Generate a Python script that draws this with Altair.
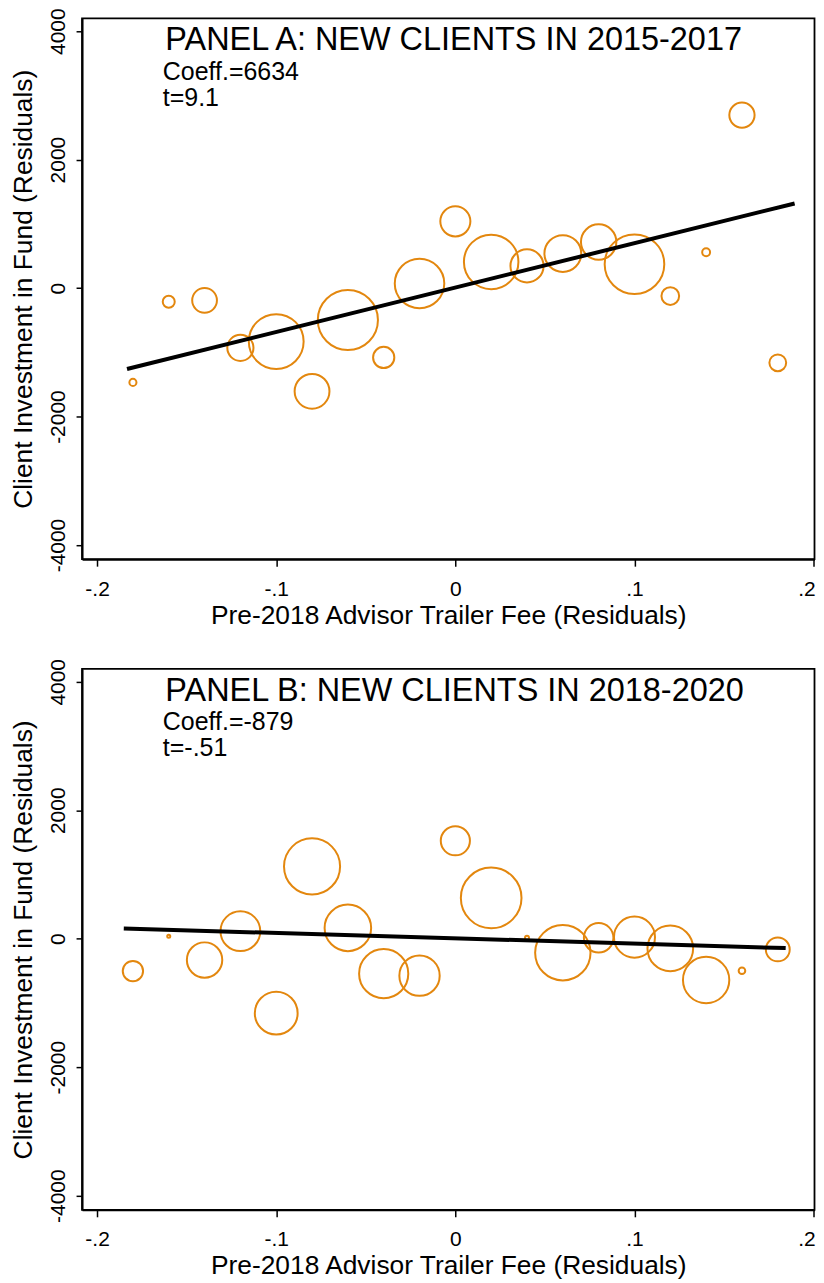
import altair as alt
import pandas as pd

# ---- data ----
fee = [-0.18, -0.16, -0.14, -0.12, -0.10, -0.08, -0.06, -0.04, -0.02, 0.00,
       0.02, 0.04, 0.06, 0.08, 0.10, 0.12, 0.14, 0.16, 0.18]

inv_a = [-1468, -212, -191, -930, -832, -1607, -496, -1080, 72, 1039,
         408, 346, 538, 718, 372, -124, 558, 2693, -1163]
wt_a = [16, 46, 196, 219, 961, 388, 1156, 144, 784, 289,
        949, 350, 433, 400, 1136, 100, 20, 204, 90]

inv_b = [-503, 40, -332, 118, -1159, 1126, 169, -544, -575, 1525,
         635, 14, -218, 14, 25, -151, -642, -498, -166]
wt_b = [132, 3, 400, 506, 586, 1005, 692, 773, 520, 272,
        1176, 5, 980, 279, 538, 666, 686, 14, 182]

fit_x_a = [-0.1833, 0.1894]
fit_y_a = [-1260, 1318]
fit_x_b = [-0.1851, 0.1844]
fit_y_b = [160, -146]

panel_titles = ["PANEL A: NEW CLIENTS IN 2015-2017", "PANEL B: NEW CLIENTS IN 2018-2020"]
coeff_texts = ["Coeff.=6634", "Coeff.=-879"]
t_texts = ["t=9.1", "t=-.51"]

x_ticks = [-0.2, -0.1, 0.0, 0.1, 0.2]
y_ticks = [-4000, -2000, 0, 2000, 4000]

X_TITLE = "Pre-2018 Advisor Trailer Fee (Residuals)"
Y_TITLE = "Client Investment in Fund (Residuals)"

# ---- styling ----
X_DOMAIN = [-0.2084, 0.2005]
Y_DOMAIN = [-4220, 4200]
ORANGE = "#E3870E"
FONT = "Liberation Sans"
W, H = 734, 542

X_AXIS = alt.Axis(
    values=x_ticks,
    labelExpr="datum.value == 0 ? '0' : (datum.value < 0 ? '-' : '') + '.' + round(abs(datum.value) * 10)",
    labelFontSize=21, labelFont=FONT, labelColor="black",
    labelFlush=5, labelFlushOffset=1.5,
    labelPadding=12, tickSize=7, tickColor="black", tickWidth=1.5,
    domainColor="black", domainWidth=2, grid=False,
    titleFontSize=26.4, titleFont=FONT, titleFontWeight="normal",
    titleColor="black", titlePadding=3,
)
Y_AXIS = alt.Axis(
    values=y_ticks,
    labelExpr="(datum.value < 0 ? '-' : '') + abs(datum.value)",
    labelAngle=270, labelAlign="center", labelBaseline="alphabetic",
    labelFontSize=21, labelFont=FONT, labelColor="black",
    labelPadding=12, tickSize=6, tickColor="black", tickWidth=1.5,
    domainColor="black", domainWidth=2, grid=False,
    titleFontSize=26.4, titleFont=FONT, titleFontWeight="normal",
    titleColor="black", titlePadding=10,
)


def x_enc(main=False):
    sc = alt.Scale(domain=X_DOMAIN, nice=False, zero=False)
    if main:
        return alt.X("fee:Q", scale=sc, axis=X_AXIS, title=X_TITLE)
    return alt.X("fee:Q", scale=sc, title=X_TITLE)


def y_enc(main=False):
    sc = alt.Scale(domain=Y_DOMAIN, nice=False, zero=False)
    if main:
        return alt.Y("inv:Q", scale=sc, axis=Y_AXIS, title=Y_TITLE)
    return alt.Y("inv:Q", scale=sc, title=Y_TITLE)


def panel(inv, wt, fx, fy, title, coeff, tstat):
    pts = pd.DataFrame({"fee": fee, "inv": inv, "wt": wt})
    fit = pd.DataFrame({"fee": fx, "inv": fy})
    head = pd.DataFrame({"fee": [-0.1619], "inv": [3700], "label": [title]})
    stats = pd.DataFrame({"fee": [-0.1633, -0.1633], "inv": [3245, 2840],
                          "label": [coeff, tstat]})

    points = alt.Chart(pts).mark_point(
        shape="circle", filled=False, color=ORANGE, strokeWidth=2, opacity=1
    ).encode(
        x=x_enc(True), y=y_enc(True),
        size=alt.Size("wt:Q", scale=alt.Scale(domain=[0, 1000], range=[0, 3141.59]),
                      legend=None),
    )
    line = alt.Chart(fit).mark_line(color="black", strokeWidth=4).encode(
        x=x_enc(), y=y_enc())
    t1 = alt.Chart(head).mark_text(
        align="left", baseline="alphabetic", fontSize=32.5, font=FONT, color="black"
    ).encode(x=x_enc(), y=y_enc(), text="label:N")
    t2 = alt.Chart(stats).mark_text(
        align="left", baseline="alphabetic", fontSize=25, font=FONT, color="black"
    ).encode(x=x_enc(), y=y_enc(), text="label:N")
    return alt.layer(points, line, t1, t2).properties(width=W, height=H)


chart = alt.vconcat(
    panel(inv_a, wt_a, fit_x_a, fit_y_a, panel_titles[0], coeff_texts[0], t_texts[0]),
    panel(inv_b, wt_b, fit_x_b, fit_y_b, panel_titles[1], coeff_texts[1], t_texts[1]),
    spacing=27,
).properties(
    padding={"top": -3, "left": 1.2, "right": -0.5, "bottom": -3},
    background="white",
).configure_view(stroke="black", strokeWidth=1.8)

chart.save("out.html", embed_options={"renderer": "svg", "actions": False})
